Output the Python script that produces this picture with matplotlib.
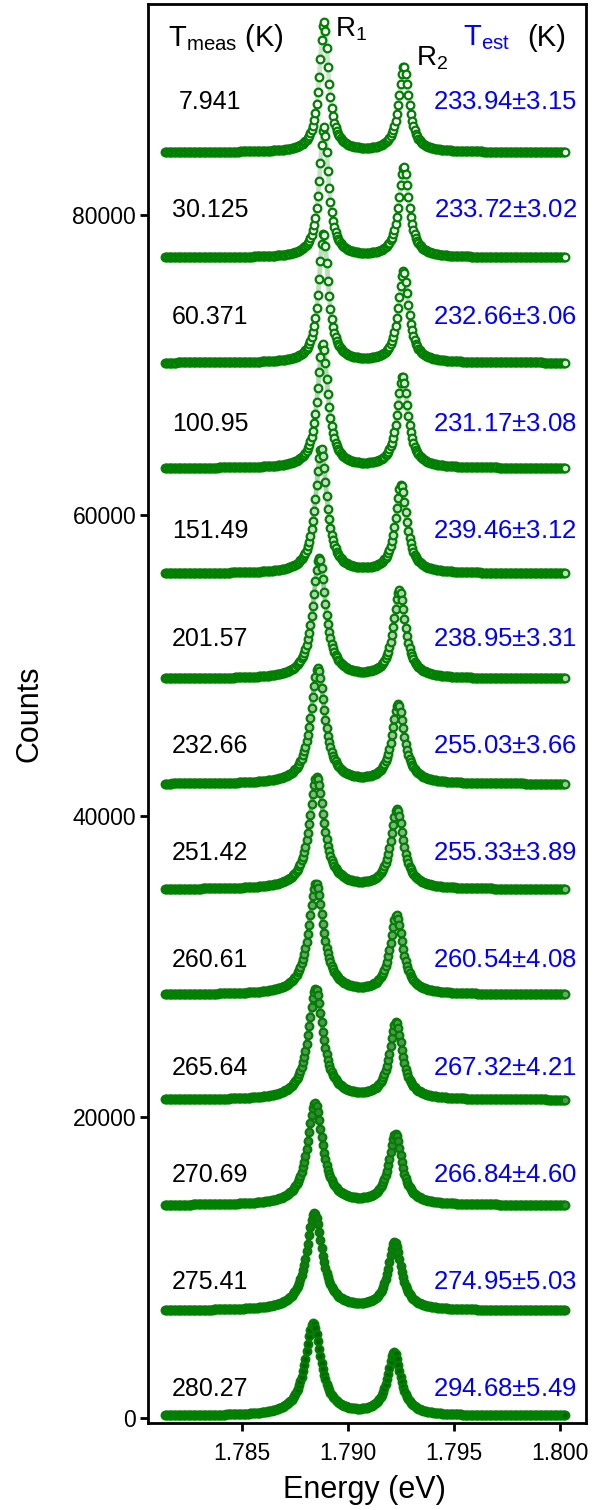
import numpy as np
import matplotlib
matplotlib.use('Agg')
import matplotlib.pyplot as plt

plt.rcParams['font.family'] = ['Liberation Sans', 'DejaVu Sans']
plt.rcParams['mathtext.fontset'] = 'custom'
plt.rcParams['mathtext.rm'] = 'Liberation Sans'
plt.rcParams['mathtext.it'] = 'Liberation Sans:italic'

# measured / estimated temperatures, top spectrum first
t_meas = [7.941, 30.125, 60.371, 100.95, 151.49, 201.57, 232.66,
          251.42, 260.61, 265.64, 270.69, 275.41, 280.27]
t_est = [233.94, 233.72, 232.66, 231.17, 239.46, 238.95, 255.03,
         255.33, 260.54, 267.32, 266.84, 274.95, 294.68]
t_err = [3.15, 3.02, 3.06, 3.08, 3.12, 3.31, 3.66,
         3.89, 4.08, 4.21, 4.60, 5.03, 5.49]

# R1 / R2 line parameters (eV, counts)
r1_pos = [1.78887, 1.78887, 1.78885, 1.78881, 1.78874, 1.78865, 1.78858,
          1.78853, 1.78850, 1.78848, 1.78845, 1.78842, 1.78836]
r2_pos = [1.79264, 1.79264, 1.79262, 1.79258, 1.79251, 1.79243, 1.79237,
          1.79232, 1.79229, 1.79227, 1.79224, 1.79221, 1.79218]
r1_amp = [8650, 8650, 8590, 8250, 8250, 7990, 7650,
          7450, 7320, 7320, 6730, 6460, 6130]
r2_amp = [5660, 6000, 6060, 6060, 5860, 5800, 5260,
          5260, 5200, 5070, 4670, 4470, 4140]
r1_fwhm = [0.00052, 0.00053, 0.00055, 0.00060, 0.00066, 0.00074, 0.00080,
           0.00083, 0.00085, 0.00086, 0.00088, 0.00090, 0.00092]
r2_fwhm = [0.00058, 0.00058, 0.00059, 0.00061, 0.00064, 0.00068, 0.00071,
           0.00072, 0.00073, 0.00074, 0.00075, 0.00076, 0.00077]
background = 150
step = 7000

energy = np.linspace(1.78137, 1.80024, 320)


def lor(x, x0, a, w):
    return a / (1 + (2 * (x - x0) / w) ** 2)


fig = plt.figure(figsize=(5.96, 15.10), dpi=100)
ax = fig.add_axes([148 / 596, 87 / 1510, 438 / 596, 1419 / 1510])

n = len(t_meas)
for i in range(n):
    k = n - 1 - i  # position from the bottom
    off = k * step
    counts = background + lor(energy, r1_pos[i], r1_amp[i], r1_fwhm[i]) \
        + lor(energy, r2_pos[i], r2_amp[i], r2_fwhm[i])
    shade = (i / (n - 1)) ** 1.4
    la = 0.2 + 0.7 * shade
    face = (1 - shade, 1 - shade * 0.62, 1 - shade)
    ax.plot(energy, counts + off, '-', color='green', alpha=la, lw=3.5, zorder=2)
    ax.plot(energy, counts + off, 'o', ls='none', ms=5.5, mew=1.6,
            mec='green', mfc=face, zorder=3)
    ty = off + 1900 + k * 130
    ax.text(1.78349, ty, '%.5g' % t_meas[i], ha='center', va='center',
            fontsize=18, color='black')
    ax.text(1.80080, ty, '%.2f$\\pm$%.2f' % (t_est[i], t_err[i]),
            ha='right', va='center', fontsize=18.5, color='blue')

ax.text(0.045, 0.976, r'T$_{\rm meas}$ (K)', transform=ax.transAxes,
        ha='left', va='center', fontsize=21)
ax.text(0.427, 0.982, r'R$_1$', transform=ax.transAxes,
        ha='left', va='center', fontsize=20)
ax.text(0.612, 0.962, r'R$_2$', transform=ax.transAxes,
        ha='left', va='center', fontsize=20)
ax.text(0.72, 0.976, r'T$_{\rm est}$', transform=ax.transAxes,
        ha='left', va='center', fontsize=21, color='blue')
ax.text(0.865, 0.976, '(K)', transform=ax.transAxes,
        ha='left', va='center', fontsize=21)

ax.set_xlim(1.78057, 1.80123)
ax.set_ylim(-330, 94000)
ax.set_xticks([1.785, 1.790, 1.795, 1.800])
ax.set_xticklabels(['1.785', '1.790', '1.795', '1.800'])
ax.set_yticks([0, 20000, 40000, 60000, 80000])
ax.tick_params(direction='out', length=6, width=2, labelsize=16.5, pad=2.5)
ax.tick_params(axis='x', pad=8)
for s in ax.spines.values():
    s.set_linewidth(2)

ax.set_xlabel('Energy (eV)', fontsize=22, va='center')
ax.xaxis.set_label_coords(0.495, -0.047)
ax.set_ylabel('Counts', fontsize=22, va='center')
ax.yaxis.set_label_coords(-0.27, 0.5)

fig.savefig('out.png', dpi=100)
